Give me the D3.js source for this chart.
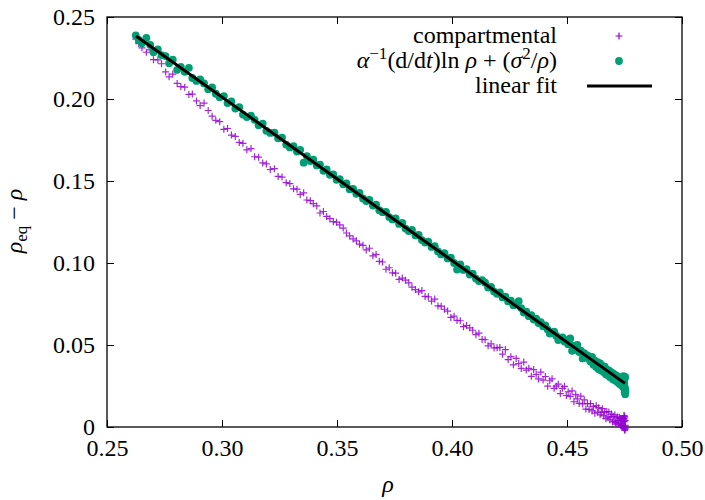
<!DOCTYPE html>
<html><head><meta charset="utf-8">
<script src="https://cdn.jsdelivr.net/npm/d3@7"></script>
</head><body style="margin:0">
<svg id="c" width="705" height="500"></svg>
<script>
// density rho (x)
const rho = [
0.2625,0.2638,0.2652,0.2671,0.2688,0.2702,0.2721,0.2737,0.2755,0.2770,0.2786,0.2805,0.2821,0.2838,0.2856,0.2871,0.2889,0.2905,0.2922,0.2940,0.2957,0.2973,0.2990,0.3008,0.3024,0.3041,0.3058,0.3075,0.3091,0.3108,0.3126,0.3142,0.3159,0.3177,0.3193,0.3210,0.3228,0.3244,0.3261,0.3279,0.3295,
0.3311,0.3326,0.3340,0.3355,0.3369,0.3384,0.3397,0.3412,0.3426,0.3441,0.3455,0.3469,0.3484,0.3498,0.3512,0.3527,0.3541,0.3555,0.3570,0.3584,0.3598,0.3613,0.3627,0.3641,0.3656,0.3670,0.3684,0.3698,0.3713,0.3727,0.3741,0.3755,0.3770,0.3784,0.3798,0.3812,0.3826,0.3841,0.3855,0.3869,0.3883,0.3897,0.3911,0.3925,0.3939,0.3953,0.3967,0.3981,0.3995,0.4009,0.4022,0.4036,0.4050,0.4063,0.4077,0.4090,0.4104,0.4117,0.4131,0.4144,0.4157,0.4170,0.4183,0.4196,
0.4208,0.4220,0.4232,0.4244,0.4256,0.4267,0.4279,0.4290,0.4301,0.4312,0.4323,0.4334,0.4345,0.4355,0.4366,0.4376,0.4386,0.4396,0.4406,0.4416,0.4425,0.4435,0.4444,0.4453,0.4462,0.4471,0.4480,0.4489,0.4497,0.4505,0.4514,0.4522,0.4530,0.4538,0.4545,0.4553,0.4560,0.4568,0.4575,0.4582,0.4589,0.4596,
0.4602,0.4609,0.4615,0.4621,0.4627,0.4633,0.4638,0.4644,0.4649,0.4654,0.4659,0.4664,0.4669,0.4673,0.4678,0.4682,0.4686,0.4690,0.4694,0.4698,0.4701,0.4705,0.4708,0.4711,0.4714,0.4717,0.4720,0.4723,0.4725,0.4728,0.4730,0.4732,0.4734,0.4736,0.4738,0.4740,0.4742,0.4743,0.4745,0.4746,0.4748,0.4749,0.4750,0.4751,0.4752,0.4753,0.4754,0.4748,0.4751,0.4746,0.4753,0.4749,0.4752
];
// compartmental: rho_eq - rho
const compartmental = [
0.2365,0.2338,0.2312,0.2285,0.2300,0.2240,0.2238,0.2215,0.2165,0.2135,0.2152,0.2095,0.2075,0.2072,0.2028,0.2030,0.1988,0.1960,0.1975,0.1930,0.1895,0.1870,0.1862,0.1815,0.1820,0.1780,0.1772,0.1735,0.1730,0.1690,0.1698,0.1648,0.1645,0.1610,0.1604,0.1570,0.1575,0.1528,0.1524,0.1490,0.1484,
0.1452,0.1450,0.1418,0.1428,0.1384,0.1380,0.1362,0.1348,0.1305,0.1314,0.1284,0.1270,0.1252,0.1249,0.1232,0.1213,0.1183,0.1165,0.1147,0.1135,0.1115,0.1108,0.1080,0.1090,0.1044,0.1052,0.1010,0.1006,0.0962,0.0971,0.0940,0.0938,0.0900,0.0908,0.0895,0.0879,0.0853,0.0838,0.0824,0.0832,0.0796,0.0794,0.0768,0.0780,0.0738,0.0737,0.0718,0.0707,0.0668,0.0676,0.0650,0.0648,0.0612,0.0619,0.0605,0.0590,0.0563,0.0572,0.0534,0.0532,0.0495,0.0507,0.0482,0.0483,
0.0485,0.0444,0.0472,0.0411,0.0429,0.0379,0.0418,0.0387,0.0357,0.0396,0.0347,0.0358,0.0309,0.0350,0.0321,0.0293,0.0335,0.0286,0.0308,0.0249,0.0282,0.0294,0.0236,0.0249,0.0261,0.0204,0.0236,0.0248,0.0192,0.0215,0.0187,0.0220,0.0154,0.0197,0.0171,0.0144,0.0188,0.0141,0.0165,0.0109,0.0143,0.0107,
0.0143,0.0098,0.0124,0.0084,0.0130,0.0091,0.0118,0.0074,0.0090,0.0112,0.0068,0.0090,0.0051,0.0094,0.0060,0.0092,0.0044,0.0062,0.0079,0.0031,0.0064,0.0036,0.0074,0.0027,0.0055,0.0018,0.0061,0.0039,0.0017,0.0060,0.0024,0.0052,0.0006,0.0040,0.0008,0.0052,0.0010,0.0045,-0.0002,0.0033,0.0051,-0.0009,0.0035,0.0060,-0.0015,0.0040,-0.0005,0.0070,-0.0020,0.0050,0.0010,0.0065,0.0000
];
// alpha^-1 (d/dt) ln rho + sigma^2/rho
const expression = [
0.2388,0.2360,0.2340,0.2372,0.2330,0.2285,0.2302,0.2268,0.2262,0.2218,0.2240,0.2178,0.2196,0.2166,0.2190,0.2128,0.2110,0.2120,0.2095,0.2060,0.2070,0.2032,0.2010,0.2018,0.1975,0.1985,0.1942,0.1950,0.1905,0.1890,0.1898,0.1873,0.1840,0.1850,0.1806,0.1793,0.1795,0.1760,0.1765,0.1722,0.1705,
0.1712,0.1680,0.1690,0.1612,0.1652,0.1622,0.1630,0.1595,0.1600,0.1562,0.1570,0.1538,0.1541,0.1507,0.1512,0.1480,0.1485,0.1450,0.1452,0.1422,0.1428,0.1394,0.1378,0.1385,0.1350,0.1356,0.1322,0.1310,0.1312,0.1280,0.1266,0.1272,0.1238,0.1245,0.1210,0.1195,0.1202,0.1168,0.1172,0.1140,0.1125,0.1130,0.1098,0.1102,0.1070,0.1052,0.1060,0.1028,0.1032,0.1000,0.0960,0.0992,0.0958,0.0962,0.0930,0.0935,0.0905,0.0890,0.0896,0.0880,0.0850,0.0855,0.0826,0.0812,
0.0820,0.0790,0.0795,0.0766,0.0770,0.0742,0.0748,0.0768,0.0725,0.0698,0.0703,0.0676,0.0682,0.0655,0.0660,0.0634,0.0640,0.0614,0.0620,0.0594,0.0570,0.0575,0.0582,0.0557,0.0530,0.0539,0.0546,0.0521,0.0529,0.0505,0.0540,0.0465,0.0496,0.0472,0.0500,0.0457,0.0466,0.0418,0.0451,0.0428,0.0437,0.0414,
0.0400,0.0428,0.0380,0.0405,0.0366,0.0395,0.0352,0.0388,0.0345,0.0372,0.0335,0.0368,0.0322,0.0350,0.0316,0.0345,0.0305,0.0336,0.0300,0.0328,0.0290,0.0322,0.0286,0.0315,0.0280,0.0312,0.0276,0.0305,0.0268,0.0300,0.0262,0.0298,0.0258,0.0292,0.0255,0.0290,0.0250,0.0288,0.0245,0.0285,0.0238,0.0290,0.0232,0.0300,0.0228,0.0305,0.0220,0.0295,0.0212,0.0310,0.0200,0.0265,0.0240
];
// linear fit end points
const fitRho = [0.2626, 0.4752];
const fitValue = [0.2384, 0.0266];

const xTicks = [0.25, 0.30, 0.35, 0.40, 0.45, 0.50];
const xTickLabels = ["0.25", "0.30", "0.35", "0.40", "0.45", "0.50"];
const yTicks = [0, 0.05, 0.10, 0.15, 0.20, 0.25];
const yTickLabels = ["0", "0.05", "0.10", "0.15", "0.20", "0.25"];
const colors = ["#9400d3", "#009e73", "#000000"];

const FONT = "Liberation Serif";
const margin = {left: 107, right: 23, top: 17, bottom: 73};
const W = 705, H = 500;
const x = d3.scaleLinear().domain([0.25, 0.5]).range([margin.left, W - margin.right]);
const y = d3.scaleLinear().domain([0, 0.25]).range([H - margin.bottom, margin.top]);

const svg = d3.select("#c");

function styleAxis(g) {
  g.attr("font-size", 24).attr("font-family", null);
  g.select(".domain").remove();
  g.selectAll(".tick line").attr("stroke", "#000").attr("stroke-width", 1);
  g.selectAll(".tick text").attr("fill", "#000");
}
svg.append("g").attr("transform", `translate(0,${y(0)})`)
  .call(d3.axisBottom(x).tickValues(xTicks).tickFormat((d, i) => xTickLabels[i]).tickSizeInner(-7).tickSizeOuter(0).tickPadding(12))
  .call(styleAxis);
svg.append("g").attr("transform", `translate(0,${y(0.25)})`)
  .call(d3.axisTop(x).tickValues(xTicks).tickFormat("").tickSizeInner(-7).tickSizeOuter(0))
  .call(styleAxis);
svg.append("g").attr("transform", `translate(${x(0.25)},0)`)
  .call(d3.axisLeft(y).tickValues(yTicks).tickFormat((d, i) => yTickLabels[i]).tickSizeInner(-7).tickSizeOuter(0).tickPadding(12))
  .call(styleAxis);
svg.append("g").attr("transform", `translate(${x(0.5)},0)`)
  .call(d3.axisRight(y).tickValues(yTicks).tickFormat("").tickSizeInner(-7).tickSizeOuter(0))
  .call(styleAxis);

svg.append("rect")
  .attr("x", x(0.25)).attr("y", y(0.25))
  .attr("width", x(0.5) - x(0.25)).attr("height", y(0) - y(0.25))
  .attr("fill", "none").attr("stroke", "#000").attr("stroke-width", 1.3);

const n = Math.min(rho.length, compartmental.length, expression.length);
const idx = d3.range(n);
const cross = (cx, cy, s) => `M${cx - s},${cy}h${2 * s}M${cx},${cy - s}v${2 * s}`;

svg.append("g").selectAll("path").data(idx).join("path")
  .attr("d", i => cross(x(rho[i]), y(compartmental[i]), 3.5))
  .attr("stroke", colors[0]).attr("stroke-width", 1.2).attr("stroke-opacity", 0.85).attr("fill", "none");

svg.append("g").selectAll("circle").data(idx).join("circle")
  .attr("cx", i => x(rho[i])).attr("cy", i => y(expression[i])).attr("r", 3.9)
  .attr("fill", colors[1]);

svg.append("path")
  .attr("d", d3.line().x(d => x(d[0])).y(d => y(d[1]))(fitRho.map((r, i) => [r, fitValue[i]])))
  .attr("stroke", colors[2]).attr("stroke-width", 3).attr("fill", "none");

// legend
const legX = 557, rowY = [36, 61, 86];
const leg = svg.append("g").attr("font-size", 24).attr("fill", "#000");
leg.append("text").attr("x", legX).attr("y", rowY[0] + 7).attr("text-anchor", "end").text("compartmental");
const t2 = leg.append("text").attr("x", legX).attr("y", rowY[1] + 7).attr("text-anchor", "end");
t2.append("tspan").attr("font-style", "italic").text("α");
t2.append("tspan").attr("font-size", 17).attr("dy", -9).text("−1");
t2.append("tspan").attr("dy", 9).text("(d/d");
t2.append("tspan").attr("font-style", "italic").text("t");
t2.append("tspan").text(")ln\u00a0");
t2.append("tspan").attr("font-style", "italic").text("ρ");
t2.append("tspan").text("\u00a0+\u00a0(");
t2.append("tspan").attr("font-style", "italic").text("σ");
t2.append("tspan").attr("font-size", 17).attr("dy", -9).text("2");
t2.append("tspan").attr("dy", 9).text("/");
t2.append("tspan").attr("font-style", "italic").text("ρ");
t2.append("tspan").text(")");
leg.append("text").attr("x", legX).attr("y", rowY[2] + 7).attr("text-anchor", "end").text("linear fit");

leg.append("path").attr("d", cross(619, rowY[0], 3.5)).attr("stroke", colors[0]).attr("stroke-width", 1.2).attr("fill", "none");
leg.append("circle").attr("cx", 619).attr("cy", rowY[1]).attr("r", 3.9).attr("fill", colors[1]);
leg.append("line").attr("x1", 587).attr("x2", 652).attr("y1", rowY[2]).attr("y2", rowY[2]).attr("stroke", colors[2]).attr("stroke-width", 3);

// axis labels
const yl = svg.append("text").attr("transform", "translate(22,221) rotate(-90)").attr("text-anchor", "middle")
  .attr("font-size", 24);
yl.append("tspan").attr("font-style", "italic").text("ρ");
yl.append("tspan").attr("font-size", 17).attr("dy", 5).text("eq");
yl.append("tspan").attr("dy", -5).text("\u00a0−\u00a0");
yl.append("tspan").attr("font-style", "italic").text("ρ");

svg.append("text").attr("x", 388).attr("y", 492).attr("text-anchor", "middle")
  .attr("font-size", 24).attr("font-style", "italic").text("ρ");

svg.selectAll("text").style("font-family", `"${FONT}"`);
</script>
</body></html>
